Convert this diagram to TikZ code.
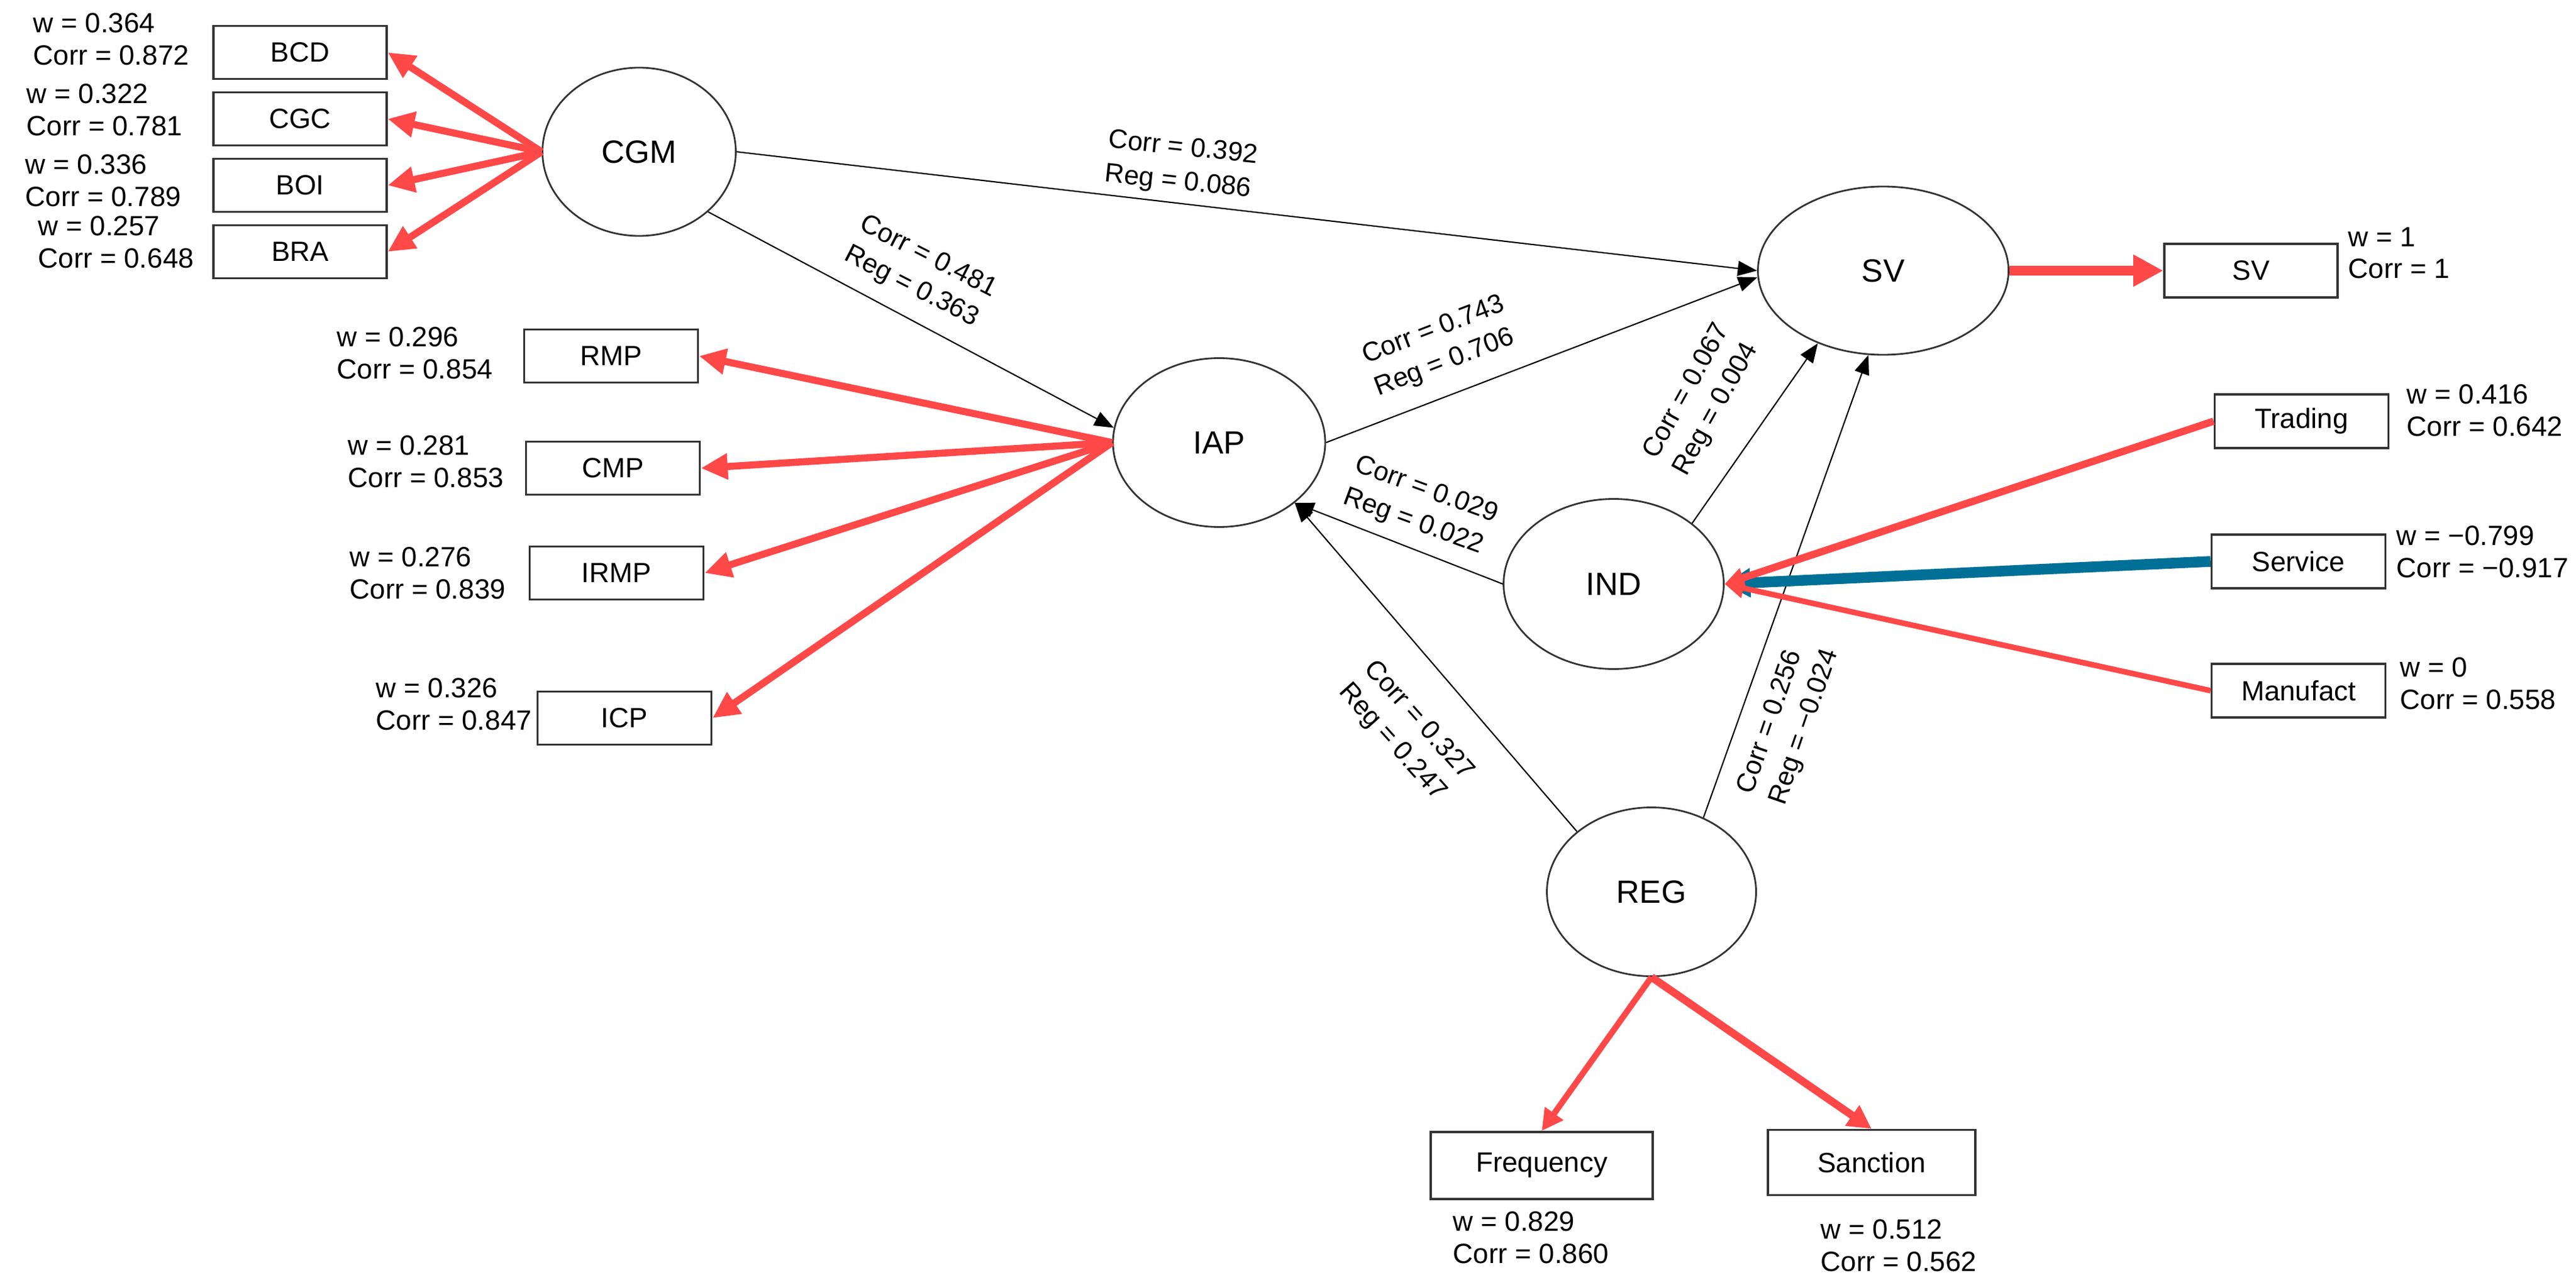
\documentclass[tikz,border=0pt]{standalone}
\usepackage{fontspec}
\setmainfont{Liberation Sans}
\usetikzlibrary{shapes.geometric,arrows.meta}
\definecolor{loadred}{RGB}{255,72,72}
\definecolor{loadblue}{RGB}{0,112,150}
\definecolor{boxgray}{RGB}{51,51,51}

\begin{document}
\begin{tikzpicture}[
    latent/.style={draw=black!80, line width=0.8pt, ellipse, inner sep=0pt, font=\fontsize{15}{18}\selectfont},
    manifest/.style={draw=boxgray, line width=1pt, rectangle, inner sep=0pt, minimum width=2.84cm, minimum height=0.87cm, font=\fontsize{13}{15}\selectfont},
    wlabel/.style={anchor=west, align=left, inner sep=0pt, font=\fontsize{13}{15}\selectfont},
    plabel/.style={align=left, inner sep=0pt, font=\fontsize{12.5}{16}\selectfont},
    inner/.style={line width=0.6pt, -{Triangle[length=9pt,width=7pt]}},
    outload/.style={loadred, line width=3.3pt, -{Triangle[length=12.5pt,width=11.5pt]}},
    formload/.style={line width=#1, -{Triangle[length=9pt,width=9pt]}},
]
        \useasboundingbox (0,0) rectangle (42.24,-21.08);

        % latent variables
        \node[latent, minimum width=3.17cm, minimum height=2.76cm] (CGM) at (10.48,-2.49) {CGM};
        \node[latent, minimum width=3.48cm, minimum height=2.77cm] (IAP) at (19.99,-7.26) {IAP};
        \node[latent, minimum width=4.11cm, minimum height=2.76cm] (SV) at (30.88,-4.44) {SV};
        \node[latent, minimum width=3.61cm, minimum height=2.79cm] (IND) at (26.46,-9.58) {IND};
        \node[latent, minimum width=3.43cm, minimum height=2.77cm] (REG) at (27.08,-14.63) {REG};

        % indicators
        \node[manifest] (BCD) at (4.92,-0.86) {BCD};
        \node[manifest] (CGC) at (4.92,-1.95) {CGC};
        \node[manifest] (BOI) at (4.92,-3.04) {BOI};
        \node[manifest] (BRA) at (4.92,-4.13) {BRA};
        \node[manifest, minimum width=2.85cm] (RMP) at (10.02,-5.84) {RMP};
        \node[manifest, minimum width=2.85cm] (CMP) at (10.05,-7.68) {CMP};
        \node[manifest, minimum width=2.85cm] (IRMP) at (10.11,-9.40) {IRMP};
        \node[manifest, minimum width=2.85cm] (ICP) at (10.24,-11.78) {ICP};
        \node[manifest, minimum height=0.88cm] (SVi) at (36.91,-4.44) {SV};
        \node[manifest, minimum width=2.85cm, minimum height=0.88cm] (Trading) at (37.74,-6.91) {Trading};
        \node[manifest, minimum width=2.85cm, minimum height=0.88cm] (Service) at (37.69,-9.21) {Service};
        \node[manifest, minimum width=2.85cm, minimum height=0.88cm] (Manufact) at (37.69,-11.33) {Manufact};
        \node[manifest, minimum width=3.64cm, minimum height=1.10cm] (Frequency) at (25.28,-19.12) {Frequency};
        \node[manifest, minimum width=3.40cm, minimum height=1.07cm] (Sanction) at (30.69,-19.07) {Sanction};

        % weights
        \node[wlabel] (wBCD) at (0.54,-0.64) {w = 0.364\\Corr = 0.872};
        \node[wlabel] (wCGC) at (0.43,-1.80) {w = 0.322\\Corr = 0.781};
        \node[wlabel] (wBOI) at (0.41,-2.96) {w = 0.336\\Corr = 0.789};
        \node[wlabel] (wBRA) at (0.62,-3.97) {w = 0.257\\Corr = 0.648};
        \node[wlabel] (wRMP) at (5.52,-5.79) {w = 0.296\\Corr = 0.854};
        \node[wlabel] (wCMP) at (5.70,-7.57) {w = 0.281\\Corr = 0.853};
        \node[wlabel] (wIRMP) at (5.73,-9.40) {w = 0.276\\Corr = 0.839};
        \node[wlabel] (wICP) at (6.16,-11.55) {w = 0.326\\Corr = 0.847};
        \node[wlabel] (wSVi) at (38.50,-4.15) {w = 1\\Corr = 1};
        \node[wlabel] (wTrading) at (39.46,-6.73) {w = 0.416\\Corr = 0.642};
        \node[wlabel] (wService) at (39.29,-9.05) {w = −0.799\\Corr = −0.917};
        \node[wlabel] (wManufact) at (39.35,-11.21) {w = 0\\Corr = 0.558};
        \node[wlabel] (wFrequency) at (23.82,-20.30) {w = 0.829\\Corr = 0.860};
        \node[wlabel] (wSanction) at (29.85,-20.43) {w = 0.512\\Corr = 0.562};

        % inner model
        \draw[inner] (CGM.east) -- (SV.180);
        \draw[inner] (CGM.south east) -- (IAP.172);
        \draw[inner] (IAP.east) -- (SV.183);
        \draw[inner] (IND.west) -- (IAP.south east);
        \draw[inner] (IND.north east) -- (SV.228);
        \draw[inner] (REG.north west) -- (IAP.south east);
        \draw[inner] (REG.55) -- (SV.260);

        \node[plabel, rotate=-6] (pCGMSV) at (19.37,-2.72) {Corr = 0.392\\Reg = 0.086};
        \node[plabel, rotate=-27] (pCGMIAP) at (15.09,-4.47) {Corr = 0.481\\Reg = 0.363};
        \node[plabel, rotate=21] (pIAPSV) at (23.61,-5.69) {Corr = 0.743\\Reg = 0.706};
        \node[plabel, rotate=-20] (pINDIAP) at (23.29,-8.31) {Corr = 0.029\\Reg = 0.022};
        \node[plabel, rotate=61] (pINDSV) at (27.91,-6.56) {Corr = 0.067\\Reg = 0.004};
        \node[plabel, rotate=-48] (pREGIAP) at (23.05,-12.01) {Corr = 0.327\\Reg = 0.247};
        \node[plabel, rotate=71] (pREGSV) at (29.33,-11.84) {Corr = 0.256\\Reg = −0.024};

        % outer model
        \foreach \b in {BCD,CGC,BOI,BRA}
            \draw[outload] (CGM.west) -- (\b.east);
        \foreach \b in {RMP,CMP,IRMP,ICP}
            \draw[outload] (IAP.west) -- (\b.east);
        \draw[outload, line width=4.8pt, -{Triangle[length=14pt,width=14pt]}] (SV.east) -- (SVi.west);
        \draw[outload, line width=2.8pt, -{Triangle[length=10pt,width=10pt]}] (REG.south) -- (Frequency.north);
        \draw[outload, line width=3.6pt, -{Triangle[length=11pt,width=11pt]}] (REG.south) -- (Sanction.north);
        \draw[formload=5pt, loadblue, -{Triangle[length=12pt,width=13pt]}] (Service.west) -- (IND.east);
        \draw[formload=3.4pt, loadred] (Trading.west) -- (IND.east);
        \draw[formload=2.6pt, loadred] (Manufact.west) -- (IND.east);
\end{tikzpicture}
\end{document}
